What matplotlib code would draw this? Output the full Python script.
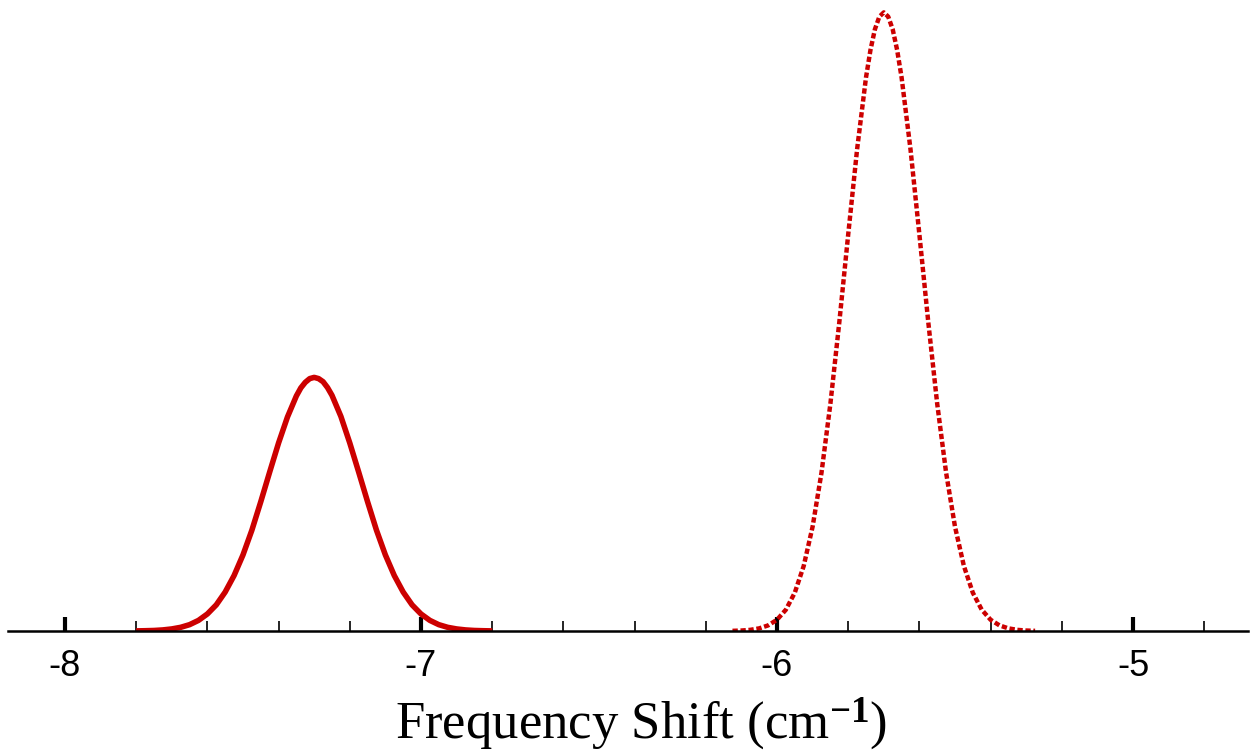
import numpy as np
import matplotlib.pyplot as plt
from matplotlib.ticker import MultipleLocator

plt.rcParams['mathtext.fontset'] = 'custom'
plt.rcParams['mathtext.rm'] = 'Liberation Serif'
plt.rcParams['mathtext.it'] = 'Liberation Serif:italic'
plt.rcParams['mathtext.bf'] = 'Liberation Serif:bold'

# peak near -7.3 cm-1 (peak 2 height = 1)
shift1 = [-7.800, -7.775, -7.750, -7.725, -7.700, -7.675, -7.650, -7.625, -7.600, -7.575,
          -7.550, -7.525, -7.500, -7.475, -7.450, -7.425, -7.400, -7.375, -7.350, -7.3375,
          -7.325, -7.3125, -7.300, -7.2875, -7.275, -7.2625, -7.250, -7.225, -7.200, -7.175,
          -7.150, -7.125, -7.100, -7.075, -7.050, -7.025, -7.000, -6.975, -6.950, -6.925,
          -6.900, -6.875, -6.850, -6.825, -6.800]
inten1 = [0.0002, 0.0005, 0.0009, 0.0018, 0.0034, 0.0060, 0.0103, 0.0172, 0.0276, 0.0423,
          0.0630, 0.0897, 0.1230, 0.1630, 0.2090, 0.2570, 0.3040, 0.3460, 0.3800, 0.3930,
          0.4020, 0.4080, 0.4100, 0.4080, 0.4030, 0.3935, 0.3810, 0.3470, 0.3040, 0.2570,
          0.2090, 0.1630, 0.1230, 0.0897, 0.0630, 0.0423, 0.0276, 0.0172, 0.0103, 0.0060,
          0.0034, 0.0018, 0.0009, 0.0005, 0.0002]

# peak near -5.7 cm-1
shift2 = [-6.125, -6.100, -6.075, -6.050, -6.025, -6.000, -5.975, -5.950, -5.925, -5.900,
          -5.875, -5.850, -5.825, -5.800, -5.775, -5.750, -5.7375, -5.725, -5.7125, -5.700,
          -5.6875, -5.675, -5.6625, -5.650, -5.625, -5.600, -5.575, -5.550, -5.525, -5.500,
          -5.475, -5.450, -5.425, -5.400, -5.375, -5.350, -5.325, -5.300, -5.275]
inten2 = [0.0003, 0.0008, 0.0019, 0.0043, 0.0091, 0.0182, 0.0345, 0.0620, 0.1051, 0.1686,
          0.2559, 0.3674, 0.4989, 0.6408, 0.7786, 0.8947, 0.9390, 0.9726, 0.9930, 1.0000,
          0.9930, 0.9726, 0.9390, 0.8947, 0.7786, 0.6408, 0.4989, 0.3674, 0.2559, 0.1686,
          0.1051, 0.0620, 0.0345, 0.0182, 0.0091, 0.0043, 0.0019, 0.0008, 0.0003]

major_ticks = [-8, -7, -6, -5]

fig = plt.figure(figsize=(12.5, 7.56), dpi=100)
ax = fig.add_axes([0.0064, 0.1653, 0.992, 0.8347])

red = '#cc0000'
ax.plot(shift1, inten1, color=red, lw=4.0, solid_capstyle='butt')
ax.plot(shift2, inten2, color=red, lw=3.2, linestyle=(0, (1.2, 0.6)))

ax.set_xlim(-8.16, -4.677)
ax.set_ylim(0, 1.02)

for s in ['top', 'left', 'right']:
    ax.spines[s].set_visible(False)
ax.spines['bottom'].set_linewidth(1.8)
ax.set_yticks([])

ax.set_xticks(major_ticks)
ax.set_xticklabels([str(t) for t in major_ticks], family='Liberation Sans', fontsize=26)
ax.xaxis.set_minor_locator(MultipleLocator(0.2))
ax.tick_params(axis='x', which='major', direction='in', length=10, width=3, pad=13)
ax.tick_params(axis='x', which='minor', direction='in', length=7, width=1.2)

fig.text(0.513, 0.024, r'Frequency Shift (cm$^{\mathbf{-1}}$)', family='Liberation Serif',
         fontsize=38, ha='center', va='baseline')

fig.savefig('out.png', dpi=100)
